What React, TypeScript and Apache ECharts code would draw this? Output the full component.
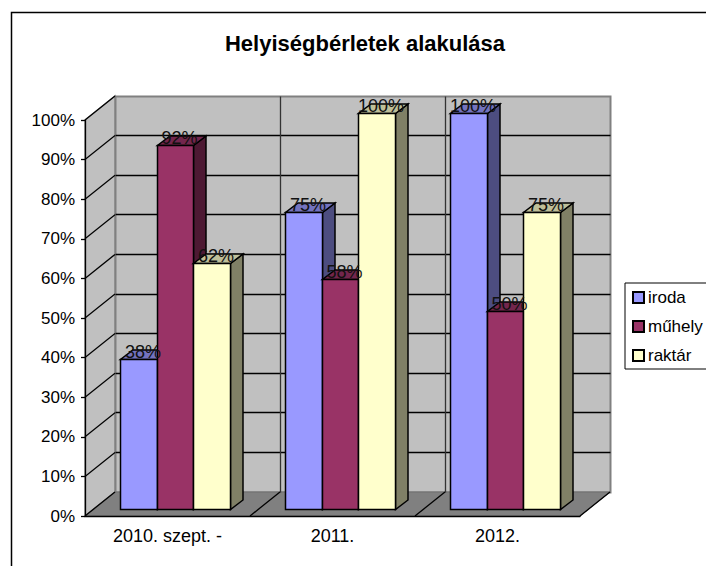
import React, { useEffect, useRef } from "react";
import * as echarts from "echarts";

const titleText = "Helyiségbérletek alakulása";
const categories = ["2010. szept. -", "2011.", "2012."];
const seriesNames = ["iroda", "műhely", "raktár"];
const irodaValues = [38, 75, 100];
const muhelyValues = [92, 58, 50];
const raktarValues = [62, 100, 75];
const valueTicks = [0, 10, 20, 30, 40, 50, 60, 70, 80, 90, 100];
const faceColors = ["#9999ff", "#993366", "#ffffcc"];
const sideColors = ["#4d4d80", "#4d1933", "#808066"];
const topColors = ["#7373bf", "#73264d", "#bfbf99"];

const FONT = '"Liberation Sans", Arial, sans-serif';
const DX = 30;
const DY = 24;
const BAR_DX = 8;
const BAR_DY = 6.5;
const SIDE_DX = 12.5;
const SIDE_DY = 9.5;
const c = (v: number) => Math.round(v - 0.5) + 0.5;

function renderWalls(params: any) {
  const g = params.coordSys;
  const l = g.x, t = g.y, r = g.x + g.width, b = g.y + g.height;
  return {
    type: "group",
    children: [
      { type: "rect", shape: { x: c(l + DX), y: c(t - DY), width: g.width, height: g.height }, style: { fill: "#c0c0c0", stroke: "#808080", lineWidth: 2 } },
      { type: "polygon", shape: { points: [[l, b], [l + DX, b - DY], [l + DX, t - DY], [l, t]] }, style: { fill: "#c0c0c0", stroke: "#808080", lineWidth: 1.5 } },
      { type: "polygon", shape: { points: [[l, b], [r, b], [r + DX, b - DY], [l + DX, b - DY]] }, style: { fill: "#808080", stroke: "#6e6e6e", lineWidth: 1 } },
    ],
  };
}

function renderGridLine(params: any, api: any) {
  const g = params.coordSys;
  const y = api.coord([0, api.value(0)])[1];
  const l = g.x;
  const children: any[] = [];
  const v = api.value(0);
  if (v > 0) {
    children.push({ type: "line", shape: { x1: l, y1: y, x2: l + DX, y2: y - DY }, style: { stroke: "#000", lineWidth: 1.3 } });
    if (v < 100) {
      children.push({ type: "line", shape: { x1: c(l + DX), y1: c(y - DY), x2: c(l + g.width + DX), y2: c(y - DY) }, style: { stroke: "#000", lineWidth: 1.3 } });
    }
  }
  return { type: "group", children };
}

function renderCatLines(params: any, api: any) {
  const g = params.coordSys;
  const i = api.value(0);
  const step = g.width / categories.length;
  const x = g.x + step * i;
  const b = g.y + g.height;
  const children: any[] = [
    { type: "line", shape: { x1: x, y1: b, x2: x + DX, y2: b - DY }, style: { stroke: "#000", lineWidth: 1.3 } },
  ];
  if (i > 0 && i < categories.length) {
    children.push({ type: "line", shape: { x1: c(x + DX), y1: c(g.y - DY), x2: c(x + DX), y2: c(b - DY) }, style: { stroke: "#333", lineWidth: 1.3 } });
  }
  return { type: "group", children };
}

function makeBarRender(index: number) {
  return (params: any, api: any) => {
    const cat = api.value(0);
    const val = api.value(1);
    const top = api.coord([cat, val]);
    const base = api.coord([cat, 0]);
    const w = api.size([1, 0])[0] * (2 / 9);
    const x0 = c(top[0] + BAR_DX + (index - 1.5) * w);
    const x1 = c(top[0] + BAR_DX + (index - 0.5) * w);
    const yT = c(top[1] - BAR_DY);
    const yB = c(base[1] - BAR_DY);
    const line = { stroke: "#000", lineWidth: 1.5 };
    return {
      type: "group",
      children: [
        { type: "polygon", shape: { points: [[x1, yT], [x1 + SIDE_DX, yT - SIDE_DY], [x1 + SIDE_DX, yB - SIDE_DY], [x1, yB]] }, style: { fill: sideColors[index], ...line } },
        { type: "polygon", shape: { points: [[x0, yT], [x1, yT], [x1 + SIDE_DX, yT - SIDE_DY], [x0 + SIDE_DX, yT - SIDE_DY]] }, style: { fill: topColors[index], ...line } },
        { type: "rect", shape: { x: x0, y: yT, width: x1 - x0, height: yB - yT }, style: { fill: faceColors[index], ...line } },
        {
          type: "text",
          z2: 100,
          style: {
            text: `${val}%`,
            x: (x0 + x1) / 2 + 4,
            y: yT - 8,
            align: "center",
            verticalAlign: "middle",
            fill: "#111",
            font: `18px ${FONT}`,
          },
        },
      ],
    };
  };
}

const barValues = [irodaValues, muhelyValues, raktarValues];

export default function App() {
  const ref = useRef<HTMLDivElement>(null);
  useEffect(() => {
    const chart = echarts.init(ref.current!, null, { renderer: "svg" });
    chart.setOption({
      animation: false,
      backgroundColor: "#ffffff",
      title: {
        text: titleText,
        left: 360,
        top: 27,
        textAlign: "center",
        textStyle: { fontFamily: FONT, fontSize: 22, fontWeight: "bold", color: "#000" },
      },
      graphic: [
        { type: "rect", z: -1, shape: { x: 11.5, y: 12.5, width: 800, height: 700 }, style: { fill: "none", stroke: "#000", lineWidth: 1.5 } },
      ],
      legend: {
        data: seriesNames,
        orient: "vertical",
        left: 625,
        top: 283,
        padding: [6, 30, 5, 7],
        itemGap: 12,
        itemWidth: 11,
        itemHeight: 11,
        icon: "rect",
        borderColor: "#000",
        borderWidth: 1,
        backgroundColor: "#fff",
        textStyle: { fontFamily: FONT, fontSize: 17, color: "#000", padding: [0, 0, 0, -1] },
        selectedMode: false,
      },
      grid: { left: 85, top: 120, width: 495, height: 396, containLabel: false },
      xAxis: {
        type: "category",
        data: categories,
        z: 10,
        axisLine: { lineStyle: { color: "#000", width: 1.3 } },
        axisTick: { length: 5, lineStyle: { color: "#000", width: 1.3 } },
        axisLabel: { fontFamily: FONT, fontSize: 18, color: "#000", margin: 11 },
      },
      yAxis: {
        type: "value",
        min: 0,
        max: 100,
        interval: 10,
        z: 10,
        axisLine: { show: true, lineStyle: { color: "#000", width: 1.3 } },
        axisTick: { show: true, length: 4, lineStyle: { color: "#000", width: 1.3 } },
        axisLabel: { formatter: "{value}%", fontFamily: FONT, fontSize: 17, color: "#000", margin: 10 },
        splitLine: { show: false },
      },
      series: [
        { type: "custom", silent: true, renderItem: renderWalls, data: [[0]], encode: { x: 0 } },
        { type: "custom", silent: true, renderItem: renderGridLine, data: valueTicks.map((v) => [v]), encode: { y: 0 } },
        { type: "custom", silent: true, renderItem: renderCatLines, data: [0, 1, 2, 3].map((v) => [v]) },
        ...seriesNames.map((name, i) => ({
          type: "custom",
          name,
          silent: true,
          renderItem: makeBarRender(i),
          encode: { x: 0, y: 1 },
          itemStyle: { color: faceColors[i], borderColor: "#000", borderWidth: 1 },
          data: barValues[i].map((v, k) => [k, v]),
        })),
      ],
    });
    return () => chart.dispose();
  }, []);
  return <div ref={ref} style={{ position: "absolute", left: 0, top: 0, width: 706, height: 566 }} />;
}
